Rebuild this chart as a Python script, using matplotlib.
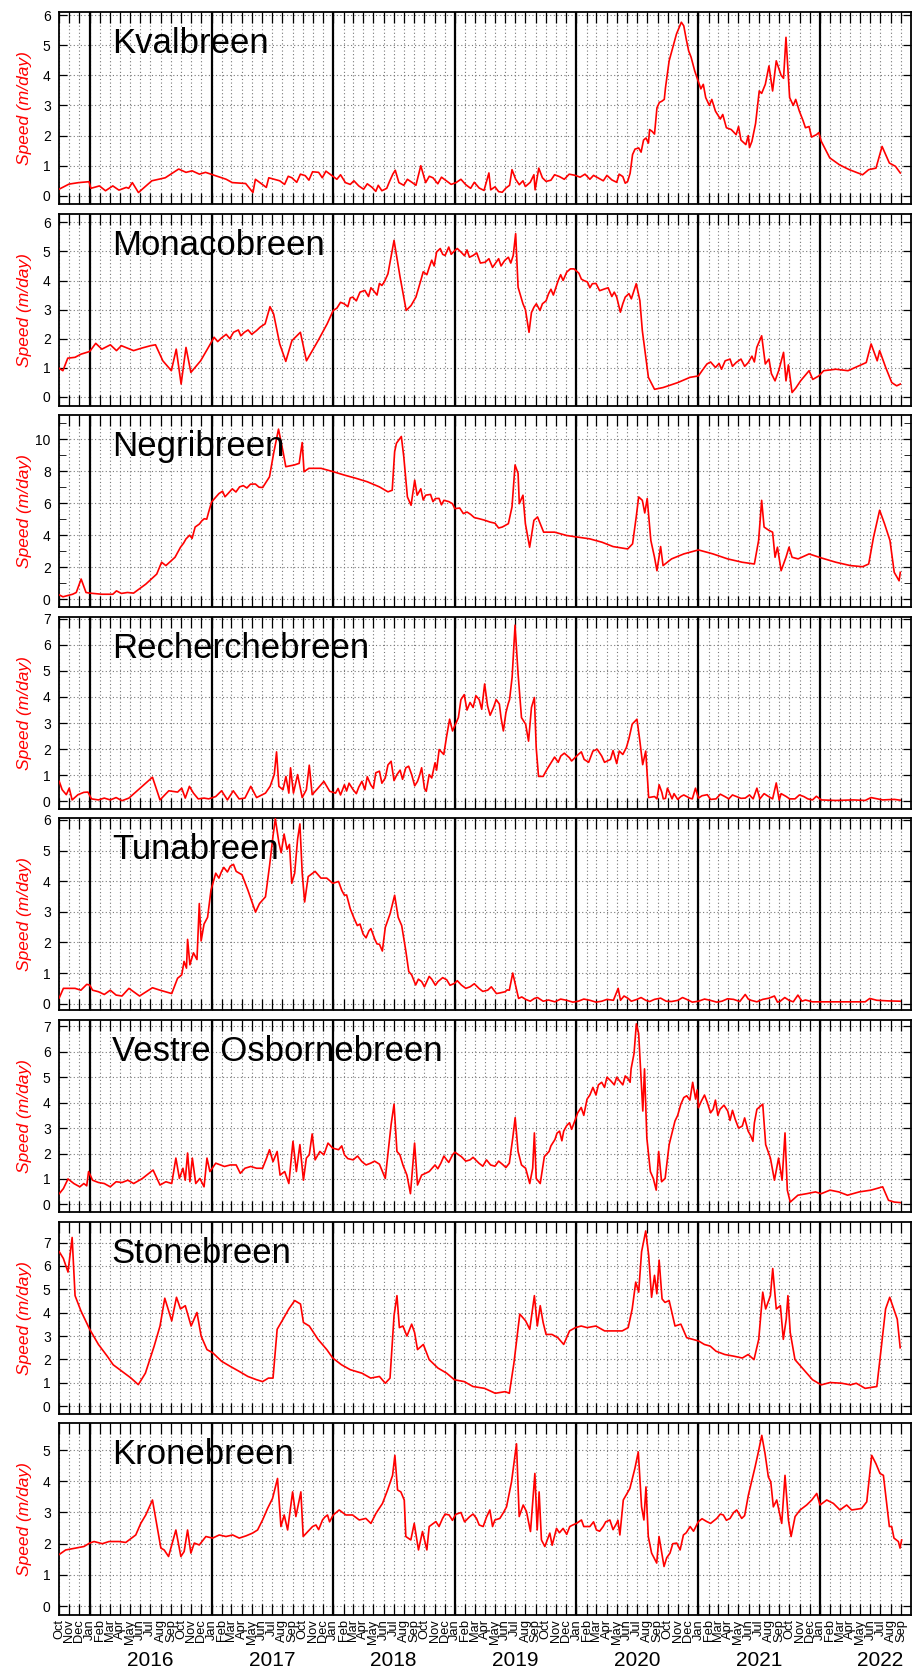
import datetime as dt
import matplotlib
matplotlib.use("Agg")
import matplotlib.pyplot as plt

plt.rcParams['font.family'] = ['Liberation Sans', 'DejaVu Sans']

# (decimal year, speed m/day); order does not matter, sorted below
KVAL = [(2015.748, 0.22), (2015.83, 0.39), (2015.91, 0.44), (2015.995, 0.47), (2016.01, 0.25),
        (2016.08, 0.33), (2016.13, 0.17), (2016.19, 0.33), (2016.24, 0.19), (2016.30, 0.28),
        (2016.32, 0.25), (2016.35, 0.44), (2016.40, 0.11), (2016.51, 0.5), (2016.62, 0.6),
        (2016.73, 0.89), (2016.79, 0.78), (2016.84, 0.83), (2016.90, 0.72), (2016.95, 0.78),
        (2017.01, 0.70), (2017.12, 0.55), (2017.17, 0.44), (2017.28, 0.41), (2017.34, 0.11),
        (2017.36, 0.55), (2017.45, 0.28), (2017.47, 0.6), (2017.56, 0.5), (2017.66, 0.6),
        (2017.77, 0.67), (2017.88, 0.78), (2017.99, 0.67), (2018.10, 0.44), (2018.21, 0.33),
        (2018.32, 0.28), (2018.40, 0.17), (2018.49, 0.72), (2018.54, 0.44), (2018.65, 0.44),
        (2018.72, 1.0), (2018.76, 0.44), (2018.82, 0.6), (2018.93, 0.5), (2019.01, 0.44),
        (2019.09, 0.37), (2019.20, 0.26), (2019.28, 0.76), (2019.295, 0.2), (2019.36, 0.14),
        (2019.42, 0.26), (2019.47, 0.87), (2019.53, 0.37), (2019.58, 0.31), (2019.65, 0.7),
        (2019.66, 0.2), (2019.69, 0.92), (2019.75, 0.48), (2019.86, 0.64), (2019.99, 0.68),
        (2020.18, 0.59), (2020.29, 0.53), (2020.38, 0.64), (2020.42, 0.48), (2020.46, 1.37),
        (2020.51, 1.59), (2020.57, 1.92), (2020.62, 2.14), (2020.66, 2.92), (2020.70, 3.14),
        (2020.73, 3.59), (2020.76, 4.48), (2020.82, 5.37), (2020.86, 5.76), (2020.88, 5.64),
        (2020.92, 4.81), (2020.97, 4.14), (2021.06, 3.26), (2021.14, 2.81), (2021.23, 2.26),
        (2021.31, 2.03), (2021.39, 1.7), (2021.44, 1.81), (2021.50, 3.48), (2021.55, 3.7),
        (2021.58, 4.31), (2021.61, 3.48), (2021.64, 4.48), (2021.68, 4.0), (2021.72, 5.26),
        (2021.75, 3.26), (2021.83, 2.81), (2021.88, 2.26), (2021.97, 2.03), (2022.01, 1.81),
        (2022.08, 1.26), (2022.16, 1.03), (2022.24, 0.87), (2022.35, 0.7), (2022.40, 0.87),
        (2022.46, 0.92), (2022.51, 1.64), (2022.57, 1.09), (2022.62, 0.98), (2022.66, 0.76),
        (2017.60, 0.38), (2017.63, 0.65), (2017.70, 0.45), (2017.73, 0.72), (2017.80, 0.52),
        (2017.83, 0.8), (2017.91, 0.6), (2017.94, 0.82), (2018.03, 0.55), (2018.06, 0.7),
        (2018.14, 0.38), (2018.17, 0.5), (2018.25, 0.22), (2018.28, 0.4), (2018.35, 0.15),
        (2018.37, 0.35), (2018.44, 0.25), (2018.46, 0.45), (2018.51, 0.85), (2018.58, 0.35),
        (2018.61, 0.55), (2018.68, 0.35), (2018.79, 0.65), (2018.86, 0.4), (2018.89, 0.62),
        (2018.97, 0.38), (2019.05, 0.55), (2019.13, 0.25), (2019.16, 0.45), (2019.24, 0.18),
        (2019.33, 0.3), (2019.39, 0.12), (2019.45, 0.35), (2019.50, 0.55), (2019.56, 0.5),
        (2019.62, 0.45), (2019.72, 0.6), (2019.79, 0.52), (2019.82, 0.7), (2019.90, 0.55),
        (2019.94, 0.72), (2020.03, 0.62), (2020.07, 0.72), (2020.11, 0.55), (2020.14, 0.68),
        (2020.22, 0.5), (2020.25, 0.68), (2020.33, 0.45), (2020.35, 0.72), (2020.40, 0.42),
        (2020.44, 0.75), (2020.48, 1.55), (2020.53, 1.45), (2020.55, 1.85), (2020.59, 1.75),
        (2020.60, 2.2), (2020.64, 2.05), (2020.68, 3.1), (2020.72, 3.2), (2020.90, 5.2),
        (2020.94, 4.6), (2020.99, 3.9), (2021.02, 3.55), (2021.04, 3.7), (2021.09, 3.0),
        (2021.11, 3.2), (2021.18, 2.55), (2021.20, 2.7), (2021.27, 2.2), (2021.33, 2.3),
        (2021.35, 1.85), (2021.41, 2.0), (2021.42, 1.6), (2021.47, 2.4), (2021.52, 3.4),
        (2021.70, 3.9), (2021.78, 3.0), (2021.80, 3.2), (2021.86, 2.5), (2021.91, 2.3),
        (2021.93, 1.95), (2021.99, 2.1)]

MONACO = [(2015.75, 0.98), (2015.78, 0.9), (2015.82, 1.33), (2015.88, 1.36), (2015.93, 1.47),
          (2016.00, 1.56), (2016.05, 1.84), (2016.10, 1.64), (2016.17, 1.79), (2016.22, 1.59),
          (2016.26, 1.76), (2016.36, 1.59), (2016.43, 1.68), (2016.50, 1.76), (2016.54, 1.79),
          (2016.60, 1.24), (2016.67, 0.9), (2016.71, 1.64), (2016.75, 0.44), (2016.79, 1.7),
          (2016.83, 0.84), (2016.91, 1.24), (2016.99, 1.82), (2017.08, 2.02), (2017.18, 2.22),
          (2017.27, 2.22), (2017.37, 2.28), (2017.44, 2.51), (2017.48, 3.1), (2017.51, 2.85),
          (2017.56, 1.82), (2017.61, 1.22), (2017.66, 1.93), (2017.73, 2.22), (2017.78, 1.24),
          (2017.875, 1.93), (2017.95, 2.51), (2018.00, 2.97), (2018.09, 3.2), (2018.16, 3.43),
          (2018.26, 3.66), (2018.33, 3.66), (2018.40, 3.83), (2018.45, 4.23), (2018.50, 5.38),
          (2018.55, 4.11), (2018.60, 2.97), (2018.64, 3.14), (2018.68, 3.43), (2018.72, 4.0),
          (2018.79, 4.46), (2018.85, 4.98), (2018.92, 4.86), (2019.00, 5.03), (2019.05, 4.98),
          (2019.15, 4.86), (2019.25, 4.63), (2019.34, 4.63), (2019.41, 4.69), (2019.48, 4.86),
          (2019.50, 5.61), (2019.52, 3.77), (2019.56, 3.2), (2019.61, 2.22), (2019.65, 3.08),
          (2019.70, 2.97), (2019.77, 3.54), (2019.85, 4.0), (2019.92, 4.29), (2019.98, 4.4),
          (2020.06, 4.0), (2020.13, 3.89), (2020.23, 3.71), (2020.33, 3.43), (2020.36, 2.91),
          (2020.40, 3.43), (2020.45, 3.37), (2020.49, 3.89), (2020.52, 3.31), (2020.54, 2.28),
          (2020.59, 0.67), (2020.64, 0.26), (2020.71, 0.32), (2020.83, 0.49), (2020.93, 0.67),
          (2021.00, 0.72), (2021.07, 1.13), (2021.14, 1.01), (2021.22, 1.24), (2021.31, 1.18),
          (2021.41, 1.18), (2021.48, 1.7), (2021.52, 2.1), (2021.55, 1.13), (2021.63, 0.55),
          (2021.70, 1.53), (2021.72, 0.55), (2021.77, 0.15), (2021.84, 0.55), (2021.91, 0.9),
          (2021.99, 0.72), (2022.03, 0.9), (2022.13, 0.95), (2022.23, 0.9), (2022.32, 1.07),
          (2022.38, 1.18), (2022.42, 1.82), (2022.47, 1.24), (2022.49, 1.59), (2022.54, 1.01),
          (2022.59, 0.49), (2022.63, 0.38), (2022.66, 0.44),
          (2017.02, 2.05), (2017.05, 1.9), (2017.12, 2.15), (2017.15, 2.0), (2017.22, 2.3),
          (2017.24, 2.1), (2017.30, 2.3), (2017.33, 2.15), (2017.40, 2.4), (2018.03, 3.05),
          (2018.06, 3.25), (2018.12, 3.1), (2018.14, 3.4), (2018.19, 3.3), (2018.22, 3.6),
          (2018.29, 3.45), (2018.31, 3.75), (2018.36, 3.5), (2018.38, 3.9), (2018.42, 3.95),
          (2018.74, 4.3), (2018.77, 4.2), (2018.81, 4.7), (2018.83, 4.5), (2018.88, 5.1),
          (2018.90, 4.9), (2018.95, 5.15), (2018.97, 4.9), (2019.02, 5.1), (2019.08, 4.85),
          (2019.10, 5.05), (2019.12, 4.8), (2019.18, 4.95), (2019.21, 4.6), (2019.28, 4.75),
          (2019.31, 4.45), (2019.36, 4.75), (2019.38, 4.5), (2019.44, 4.8), (2019.46, 4.6),
          (2019.58, 3.0), (2019.63, 2.9), (2019.67, 3.2), (2019.72, 3.2), (2019.75, 3.3),
          (2019.79, 3.7), (2019.81, 3.5), (2019.87, 4.2), (2019.89, 4.0), (2019.95, 4.4),
          (2020.02, 4.25), (2020.04, 4.05), (2020.09, 3.95), (2020.11, 3.75), (2020.16, 3.9),
          (2020.19, 3.65), (2020.26, 3.75), (2020.29, 3.45), (2020.31, 3.6), (2020.38, 3.2),
          (2020.43, 3.55), (2021.03, 0.9), (2021.10, 1.2), (2021.17, 1.15), (2021.19, 0.95),
          (2021.26, 1.3), (2021.28, 1.05), (2021.35, 1.3), (2021.38, 1.05), (2021.44, 1.4),
          (2021.46, 1.2), (2021.58, 1.3), (2021.60, 0.8), (2021.66, 0.9), (2021.74, 1.1),
          (2021.80, 0.3), (2021.87, 0.7), (2021.94, 0.6)]

NEGRI = [(2015.75, 0.27), (2015.78, 0.15), (2015.86, 0.31), (2015.89, 0.42), (2015.93, 1.26),
         (2015.97, 0.42), (2016.00, 0.38), (2016.10, 0.31), (2016.19, 0.31), (2016.22, 0.52),
         (2016.26, 0.36), (2016.31, 0.42), (2016.36, 0.38), (2016.46, 0.94), (2016.55, 1.57),
         (2016.59, 2.31), (2016.625, 2.1), (2016.70, 2.62), (2016.745, 3.25), (2016.79, 3.77),
         (2016.865, 4.51), (2016.94, 5.03), (2016.976, 5.45), (2017.00, 6.08), (2017.06, 6.6),
         (2017.13, 6.56), (2017.23, 7.02), (2017.32, 7.19), (2017.42, 6.98), (2017.476, 7.65),
         (2017.51, 9.12), (2017.55, 10.63), (2017.59, 9.12), (2017.61, 8.28), (2017.68, 8.39),
         (2017.72, 8.49), (2017.745, 9.79), (2017.76, 7.97), (2017.80, 8.18), (2017.90, 8.18),
         (2018.00, 7.97), (2018.09, 7.76), (2018.19, 7.55), (2018.28, 7.34), (2018.38, 7.02),
         (2018.45, 6.71), (2018.485, 6.81), (2018.505, 9.22), (2018.52, 9.75), (2018.56, 10.17),
         (2018.58, 8.91), (2018.61, 6.39), (2018.64, 5.87), (2018.67, 7.44), (2018.69, 6.5),
         (2018.76, 6.5), (2018.84, 6.29), (2018.91, 6.18), (2018.98, 5.97), (2019.00, 5.66),
         (2019.10, 5.45), (2019.20, 5.03), (2019.29, 4.82), (2019.39, 4.51), (2019.44, 4.72),
         (2019.47, 5.77), (2019.495, 8.39), (2019.52, 7.86), (2019.53, 5.97), (2019.56, 6.5),
         (2019.58, 4.72), (2019.615, 3.25), (2019.65, 4.93), (2019.68, 5.14), (2019.73, 4.19),
         (2019.82, 4.19), (2019.92, 3.98), (2020.01, 3.88), (2020.11, 3.77), (2020.21, 3.56),
         (2020.30, 3.29), (2020.42, 3.14), (2020.46, 3.46), (2020.49, 5.14), (2020.51, 6.39),
         (2020.54, 6.18), (2020.56, 5.39), (2020.58, 6.29), (2020.61, 3.67), (2020.64, 2.62),
         (2020.66, 1.78), (2020.69, 3.29), (2020.71, 2.1), (2020.78, 2.52), (2020.88, 2.83),
         (2021.00, 3.08), (2021.12, 2.83), (2021.24, 2.52), (2021.36, 2.31), (2021.46, 2.2),
         (2021.495, 3.67), (2021.52, 6.18), (2021.54, 4.51), (2021.58, 4.3), (2021.61, 4.19),
         (2021.63, 2.62), (2021.65, 3.25), (2021.68, 1.78), (2021.72, 2.62), (2021.745, 3.25),
         (2021.77, 2.62), (2021.82, 2.52), (2021.91, 2.83), (2022.01, 2.58), (2022.13, 2.31),
         (2022.25, 2.1), (2022.35, 2.03), (2022.40, 2.2), (2022.44, 3.88), (2022.49, 5.56),
         (2022.53, 4.72), (2022.575, 3.67), (2022.61, 1.68), (2022.65, 1.15), (2022.66, 1.68),
         (2018.72, 6.9), (2018.74, 6.2), (2018.80, 6.55), (2018.82, 6.1), (2018.87, 6.3),
         (2018.89, 5.9), (2018.95, 6.1), (2019.04, 5.7), (2019.07, 5.35), (2019.13, 5.3),
         (2019.16, 5.1), (2019.24, 4.95), (2019.33, 4.75), (2019.36, 4.45), (2017.09, 6.75),
         (2017.11, 6.4), (2017.17, 6.9), (2017.20, 6.7), (2017.26, 7.1), (2017.29, 6.95),
         (2017.36, 7.2), (2017.39, 7.0), (2016.77, 3.5), (2016.82, 4.0), (2016.84, 3.8),
         (2016.90, 4.7), (2016.92, 4.9), (2016.96, 5.0)]

RECHERCHE = [(2015.75, 0.77), (2015.774, 0.45), (2015.808, 0.26), (2015.832, 0.51), (2015.856, 0.06),
             (2015.904, 0.26), (2015.952, 0.35), (2015.986, 0.36), (2016.015, 0.1), (2016.072, 0.06),
             (2016.12, 0.13), (2016.169, 0.06), (2016.217, 0.15), (2016.265, 0.03), (2016.322, 0.13),
             (2016.515, 0.93), (2016.577, 0.06), (2016.649, 0.41), (2016.721, 0.36), (2016.755, 0.51),
             (2016.784, 0.13), (2016.818, 0.58), (2016.851, 0.32), (2016.89, 0.1), (2016.938, 0.13),
             (2016.976, 0.1), (2017.034, 0.19), (2017.082, 0.41), (2017.13, 0.06), (2017.178, 0.41),
             (2017.226, 0.1), (2017.274, 0.13), (2017.322, 0.58), (2017.37, 0.15), (2017.443, 0.32),
             (2017.481, 0.58), (2017.515, 1.03), (2017.534, 1.9), (2017.553, 0.58), (2017.587, 0.45),
             (2017.611, 0.96), (2017.635, 0.32), (2017.649, 1.29), (2017.673, 0.32), (2017.707, 1.03),
             (2017.745, 0.15), (2017.779, 0.45), (2017.803, 1.39), (2017.827, 0.26), (2017.875, 0.51),
             (2017.923, 0.77), (2017.971, 0.39), (2018.019, 0.32), (2018.092, 0.64), (2018.164, 0.45),
             (2018.236, 0.77), (2018.308, 0.64), (2018.38, 1.16), (2018.428, 0.9), (2018.476, 1.54),
             (2018.524, 1.03), (2018.597, 1.29), (2018.645, 1.03), (2018.693, 0.77), (2018.727, 1.29),
             (2018.765, 0.39), (2018.789, 1.03), (2018.837, 1.48), (2018.871, 1.99), (2018.909, 1.8),
             (2018.933, 2.51), (2018.957, 3.15), (2018.981, 2.7), (2019.029, 3.21), (2019.077, 4.09),
             (2019.125, 3.79), (2019.173, 4.05), (2019.221, 3.53), (2019.245, 4.5), (2019.269, 3.66),
             (2019.318, 3.6), (2019.366, 3.73), (2019.399, 2.7), (2019.438, 3.73), (2019.471, 4.76),
             (2019.495, 6.75), (2019.52, 4.88), (2019.548, 3.21), (2019.582, 2.96), (2019.606, 2.31),
             (2019.63, 3.6), (2019.654, 3.98), (2019.669, 2.06), (2019.688, 0.96), (2019.726, 0.96),
             (2019.799, 1.54), (2019.871, 1.74), (2019.943, 1.67), (2020.015, 1.8), (2020.063, 1.61),
             (2020.135, 1.93), (2020.207, 1.74), (2020.279, 1.61), (2020.351, 1.93), (2020.409, 2.06),
             (2020.457, 2.96), (2020.496, 3.15), (2020.52, 2.31), (2020.543, 1.41), (2020.568, 1.93),
             (2020.592, 0.15), (2020.64, 0.19), (2020.678, 0.64), (2020.712, 0.1), (2020.746, 0.51),
             (2020.784, 0.1), (2020.856, 0.19), (2020.928, 0.13), (2020.976, 0.51), (2021.0, 0.13),
             (2021.073, 0.26), (2021.145, 0.1), (2021.217, 0.19), (2021.313, 0.19), (2021.385, 0.13),
             (2021.481, 0.51), (2021.505, 0.1), (2021.577, 0.19), (2021.64, 0.71), (2021.664, 0.06),
             (2021.722, 0.19), (2021.794, 0.1), (2021.866, 0.19), (2021.938, 0.06), (2022.01, 0.06),
             (2022.13, 0.04), (2022.274, 0.06), (2022.371, 0.04), (2022.419, 0.15), (2022.515, 0.06),
             (2022.611, 0.08), (2022.659, 0.05),
             (2018.04, 0.5), (2018.06, 0.25), (2018.11, 0.4), (2018.13, 0.7), (2018.19, 0.3),
             (2018.21, 0.55), (2018.26, 0.45), (2018.28, 0.95), (2018.33, 0.5), (2018.35, 1.1),
             (2018.40, 0.7), (2018.45, 1.4), (2018.50, 0.8), (2018.55, 1.2), (2018.57, 0.85),
             (2018.62, 1.35), (2018.67, 0.6), (2018.71, 1.0), (2018.75, 0.5), (2018.81, 0.9),
             (2018.85, 1.2), (2019.05, 3.9), (2019.10, 3.5), (2019.15, 3.6), (2019.20, 3.9),
             (2019.29, 3.3), (2019.34, 3.9), (2019.38, 3.2), (2019.42, 3.4), (2019.45, 3.9),
             (2019.76, 1.25), (2019.82, 1.7), (2019.85, 1.5), (2019.90, 1.85), (2019.96, 1.55),
             (2020.04, 1.9), (2020.10, 1.5), (2020.17, 2.0), (2020.23, 1.5), (2020.30, 1.95),
             (2020.33, 1.45), (2020.38, 1.8), (2020.43, 2.4), (2020.66, 0.1), (2020.70, 0.35),
             (2020.73, 0.12), (2020.80, 0.3), (2020.83, 0.08), (2020.88, 0.25), (2020.95, 0.1),
             (2021.03, 0.22), (2021.10, 0.08), (2021.18, 0.28), (2021.25, 0.1), (2021.28, 0.25),
             (2021.35, 0.12), (2021.42, 0.25), (2021.45, 0.1), (2021.54, 0.3), (2021.61, 0.1),
             (2021.68, 0.3), (2021.75, 0.1), (2021.83, 0.25), (2021.90, 0.1), (2021.97, 0.2)]

TUNA = [(2015.75, 0.19), (2015.784, 0.5), (2015.88, 0.5), (2015.928, 0.44), (2015.976, 0.63),
        (2016.0, 0.61), (2016.024, 0.44), (2016.072, 0.39), (2016.12, 0.3), (2016.169, 0.44),
        (2016.217, 0.28), (2016.265, 0.25), (2016.322, 0.5), (2016.409, 0.25), (2016.515, 0.52),
        (2016.577, 0.44), (2016.673, 0.33), (2016.721, 0.83), (2016.755, 0.94), (2016.774, 1.38),
        (2016.794, 1.16), (2016.803, 2.1), (2016.822, 1.27), (2016.851, 1.66), (2016.88, 1.44),
        (2016.899, 3.27), (2016.914, 2.05), (2016.938, 2.6), (2016.967, 2.82), (2016.995, 3.71),
        (2017.034, 4.26), (2017.082, 4.32), (2017.154, 4.49), (2017.202, 4.32), (2017.25, 4.21),
        (2017.298, 3.71), (2017.332, 3.32), (2017.361, 2.99), (2017.394, 3.27), (2017.443, 3.49),
        (2017.476, 4.49), (2017.505, 5.48), (2017.524, 6.04), (2017.553, 5.26), (2017.572, 4.93),
        (2017.596, 5.54), (2017.62, 5.04), (2017.64, 5.2), (2017.659, 3.93), (2017.683, 4.26),
        (2017.707, 5.37), (2017.726, 5.87), (2017.745, 4.26), (2017.765, 3.32), (2017.794, 4.15),
        (2017.851, 4.32), (2017.899, 4.1), (2017.947, 4.1), (2017.996, 3.93), (2018.044, 3.99),
        (2018.092, 3.54), (2018.14, 3.1), (2018.198, 2.55), (2018.246, 2.27), (2018.294, 2.38),
        (2018.342, 2.1), (2018.38, 1.94), (2018.404, 1.72), (2018.428, 2.49), (2018.467, 2.93),
        (2018.505, 3.54), (2018.534, 2.82), (2018.563, 2.55), (2018.597, 1.72), (2018.621, 1.05),
        (2018.645, 0.94), (2018.678, 0.61), (2018.727, 0.72), (2018.789, 0.89), (2018.861, 0.72),
        (2018.933, 0.78), (2018.996, 0.66), (2019.053, 0.61), (2019.125, 0.55), (2019.198, 0.5),
        (2019.27, 0.44), (2019.342, 0.33), (2019.414, 0.39), (2019.448, 0.44), (2019.476, 1.0),
        (2019.505, 0.5), (2019.524, 0.17), (2019.582, 0.14), (2019.654, 0.17), (2019.726, 0.08),
        (2019.823, 0.06), (2019.919, 0.11), (2020.015, 0.08), (2020.111, 0.11), (2020.207, 0.08),
        (2020.303, 0.11), (2020.342, 0.5), (2020.361, 0.11), (2020.424, 0.17), (2020.496, 0.14),
        (2020.568, 0.11), (2020.64, 0.14), (2020.736, 0.08), (2020.832, 0.11), (2020.904, 0.14),
        (2021.0, 0.08), (2021.097, 0.11), (2021.193, 0.08), (2021.289, 0.14), (2021.385, 0.3),
        (2021.433, 0.11), (2021.529, 0.14), (2021.625, 0.25), (2021.673, 0.08), (2021.745, 0.11),
        (2021.818, 0.28), (2021.851, 0.08), (2021.938, 0.06), (2022.01, 0.06), (2022.13, 0.06),
        (2022.274, 0.06), (2022.371, 0.06), (2022.409, 0.17), (2022.467, 0.11), (2022.563, 0.09),
        (2022.659, 0.08),
        (2019.55, 0.22), (2019.62, 0.08), (2019.68, 0.2), (2019.77, 0.12), (2019.87, 0.15),
        (2019.97, 0.05), (2020.06, 0.15), (2020.16, 0.05), (2020.25, 0.14), (2020.39, 0.25),
        (2020.45, 0.08), (2020.53, 0.2), (2020.60, 0.07), (2020.69, 0.18), (2020.78, 0.07),
        (2020.87, 0.2), (2020.95, 0.05), (2021.05, 0.15), (2021.15, 0.05), (2021.24, 0.16),
        (2021.34, 0.07), (2021.41, 0.15), (2021.48, 0.06), (2021.58, 0.18), (2021.65, 0.05),
        (2021.71, 0.2), (2021.78, 0.06), (2021.88, 0.12), (2018.70, 0.8), (2018.75, 0.55),
        (2018.81, 0.8), (2018.84, 0.6), (2018.90, 0.85), (2018.96, 0.6), (2019.02, 0.75),
        (2019.09, 0.5), (2019.16, 0.65), (2019.23, 0.4), (2019.30, 0.55), (2019.37, 0.35),
        (2019.43, 0.45), (2017.06, 4.1), (2017.10, 4.45), (2017.13, 4.3), (2017.18, 4.55),
        (2018.07, 3.7), (2018.11, 3.55), (2018.17, 2.8), (2018.22, 2.6), (2018.27, 2.15),
        (2018.31, 2.45), (2018.36, 1.95)]

VESTRE = [(2015.75, 0.42), (2015.784, 0.62), (2015.822, 1.0), (2015.87, 0.82), (2015.919, 0.69),
          (2015.952, 0.82), (2015.976, 0.73), (2015.991, 1.29), (2016.024, 0.95), (2016.072, 0.86),
          (2016.12, 0.82), (2016.169, 0.69), (2016.217, 0.89), (2016.265, 0.86), (2016.313, 0.95),
          (2016.361, 0.82), (2016.433, 1.02), (2016.52, 1.35), (2016.577, 0.76), (2016.625, 0.89),
          (2016.673, 0.82), (2016.707, 1.82), (2016.736, 1.02), (2016.765, 1.42), (2016.784, 0.95),
          (2016.803, 2.02), (2016.822, 0.89), (2016.842, 1.82), (2016.87, 0.82), (2016.904, 1.02),
          (2016.938, 0.69), (2016.962, 1.82), (2016.986, 1.29), (2017.034, 1.62), (2017.106, 1.49),
          (2017.154, 1.55), (2017.202, 1.55), (2017.236, 1.22), (2017.274, 1.42), (2017.322, 1.49),
          (2017.37, 1.42), (2017.419, 1.42), (2017.452, 1.82), (2017.476, 2.15), (2017.505, 1.68),
          (2017.539, 2.08), (2017.563, 1.15), (2017.601, 1.29), (2017.635, 0.82), (2017.669, 2.48),
          (2017.697, 1.29), (2017.726, 2.35), (2017.755, 0.95), (2017.779, 1.82), (2017.803, 1.95),
          (2017.827, 2.77), (2017.851, 1.75), (2017.89, 2.08), (2017.923, 1.95), (2017.957, 2.41),
          (2017.996, 2.21), (2018.044, 2.15), (2018.092, 1.95), (2018.164, 1.75), (2018.236, 1.68),
          (2018.308, 1.62), (2018.38, 1.58), (2018.428, 1.02), (2018.452, 2.08), (2018.476, 3.14),
          (2018.5, 3.94), (2018.524, 2.08), (2018.548, 1.95), (2018.573, 1.55), (2018.606, 1.15),
          (2018.635, 0.42), (2018.669, 2.41), (2018.693, 0.76), (2018.727, 1.15), (2018.789, 1.29),
          (2018.837, 1.55), (2018.885, 1.62), (2018.933, 1.75), (2018.981, 1.95), (2019.053, 1.88),
          (2019.125, 1.75), (2019.198, 1.62), (2019.294, 1.55), (2019.39, 1.58), (2019.448, 1.62),
          (2019.476, 2.61), (2019.496, 3.41), (2019.52, 2.08), (2019.548, 1.55), (2019.582, 1.42),
          (2019.616, 0.82), (2019.64, 1.42), (2019.654, 2.81), (2019.669, 1.02), (2019.702, 0.82),
          (2019.736, 1.88), (2019.775, 2.08), (2019.823, 2.55), (2019.861, 2.88), (2019.895, 2.88),
          (2019.943, 3.21), (2019.991, 3.34), (2020.039, 3.81), (2020.087, 4.14), (2020.135, 4.6),
          (2020.207, 4.8), (2020.279, 4.87), (2020.351, 4.87), (2020.424, 4.93), (2020.448, 5.33),
          (2020.472, 5.93), (2020.491, 7.1), (2020.51, 6.72), (2020.529, 5.0), (2020.544, 3.67),
          (2020.558, 5.33), (2020.577, 2.61), (2020.606, 1.29), (2020.63, 1.02), (2020.654, 0.56),
          (2020.674, 2.08), (2020.698, 0.89), (2020.727, 1.02), (2020.76, 2.35), (2020.808, 3.28),
          (2020.856, 3.94), (2020.904, 4.27), (2020.953, 4.8), (2020.977, 4.14), (2021.025, 4.07),
          (2021.073, 4.01), (2021.121, 3.74), (2021.178, 3.74), (2021.241, 3.67), (2021.303, 3.34),
          (2021.361, 3.08), (2021.409, 2.88), (2021.448, 2.48), (2021.481, 3.74), (2021.529, 3.94),
          (2021.553, 2.35), (2021.592, 1.82), (2021.625, 0.95), (2021.659, 1.82), (2021.688, 0.95),
          (2021.712, 2.81), (2021.731, 0.56), (2021.755, 0.09), (2021.818, 0.36), (2021.89, 0.42),
          (2021.962, 0.49), (2022.01, 0.42), (2022.082, 0.56), (2022.154, 0.49), (2022.226, 0.36),
          (2022.322, 0.49), (2022.419, 0.56), (2022.515, 0.69), (2022.563, 0.16), (2022.611, 0.09),
          (2022.659, 0.07),
          (2019.79, 2.3), (2019.84, 2.8), (2019.88, 2.5), (2019.92, 3.1), (2019.96, 2.95),
          (2020.01, 3.6), (2020.06, 3.5), (2020.11, 4.3), (2020.16, 4.3), (2020.18, 4.7),
          (2020.23, 4.6), (2020.25, 5.0), (2020.31, 4.7), (2020.33, 5.0), (2020.38, 4.7),
          (2020.40, 5.05), (2020.44, 4.8), (2020.83, 3.5), (2020.88, 4.2), (2020.93, 4.1),
          (2020.99, 4.5), (2021.00, 3.8), (2021.05, 4.3), (2021.10, 3.6), (2021.14, 4.1),
          (2021.16, 3.5), (2021.21, 3.9), (2021.26, 3.3), (2021.28, 3.7), (2021.33, 3.0),
          (2021.38, 3.4), (2021.43, 2.7), (2021.46, 3.2), (2018.86, 1.4), (2018.91, 1.9),
          (2018.95, 1.65), (2019.00, 2.05), (2019.09, 1.7), (2019.15, 1.85), (2019.23, 1.5),
          (2019.26, 1.75), (2019.33, 1.5), (2019.36, 1.7), (2019.42, 1.45), (2018.07, 2.3),
          (2018.12, 1.8), (2018.20, 1.9), (2018.27, 1.55), (2018.34, 1.7)]

STONE = [(2015.75, 6.61), (2015.784, 6.32), (2015.822, 5.74), (2015.856, 7.22), (2015.88, 4.73),
         (2015.928, 4.08), (2016.0, 3.29), (2016.072, 2.64), (2016.144, 2.14), (2016.193, 1.77),
         (2016.265, 1.49), (2016.337, 1.21), (2016.399, 0.92), (2016.457, 1.41), (2016.529, 2.57),
         (2016.577, 3.43), (2016.616, 4.62), (2016.673, 3.65), (2016.712, 4.66), (2016.745, 4.16),
         (2016.784, 4.3), (2016.832, 3.43), (2016.88, 4.01), (2016.914, 3.0), (2016.962, 2.42),
         (2017.01, 2.28), (2017.082, 1.92), (2017.154, 1.7), (2017.226, 1.49), (2017.298, 1.27),
         (2017.37, 1.13), (2017.419, 1.05), (2017.467, 1.2), (2017.505, 1.2), (2017.539, 3.29),
         (2017.587, 3.72), (2017.635, 4.16), (2017.683, 4.52), (2017.731, 4.37), (2017.755, 3.58),
         (2017.803, 3.43), (2017.875, 2.86), (2017.947, 2.42), (2017.996, 2.06), (2018.068, 1.77),
         (2018.14, 1.56), (2018.236, 1.41), (2018.308, 1.2), (2018.38, 1.27), (2018.428, 0.98),
         (2018.467, 1.2), (2018.5, 3.87), (2018.524, 4.73), (2018.544, 3.36), (2018.573, 3.43),
         (2018.606, 3.0), (2018.645, 3.51), (2018.669, 3.15), (2018.693, 2.42), (2018.741, 2.64),
         (2018.789, 1.99), (2018.861, 1.63), (2018.933, 1.41), (2018.996, 1.13), (2019.077, 1.05),
         (2019.149, 0.84), (2019.245, 0.76), (2019.332, 0.55), (2019.414, 0.62), (2019.448, 0.55),
         (2019.486, 1.85), (2019.534, 3.94), (2019.582, 3.65), (2019.616, 3.29), (2019.654, 4.73),
         (2019.678, 3.43), (2019.702, 4.3), (2019.726, 3.58), (2019.75, 3.07), (2019.798, 3.07),
         (2019.847, 2.93), (2019.895, 2.64), (2019.943, 3.22), (2019.991, 3.36), (2020.039, 3.43),
         (2020.087, 3.36), (2020.159, 3.43), (2020.231, 3.22), (2020.303, 3.22), (2020.375, 3.22),
         (2020.424, 3.36), (2020.457, 4.16), (2020.486, 5.31), (2020.51, 4.88), (2020.534, 6.61),
         (2020.568, 7.5), (2020.592, 6.46), (2020.616, 4.66), (2020.64, 5.6), (2020.659, 4.81),
         (2020.678, 6.25), (2020.702, 4.59), (2020.726, 4.44), (2020.76, 4.52), (2020.808, 3.43),
         (2020.856, 3.51), (2020.904, 2.93), (2020.953, 2.86), (2021.001, 2.79), (2021.049, 2.64),
         (2021.097, 2.57), (2021.145, 2.35), (2021.217, 2.21), (2021.289, 2.14), (2021.361, 2.06),
         (2021.409, 2.21), (2021.457, 1.99), (2021.496, 2.86), (2021.529, 4.88), (2021.553, 4.16),
         (2021.592, 4.73), (2021.611, 5.89), (2021.64, 4.16), (2021.674, 4.3), (2021.698, 2.86),
         (2021.722, 3.72), (2021.736, 4.73), (2021.755, 3.15), (2021.794, 1.99), (2021.866, 1.56),
         (2021.938, 1.13), (2022.01, 0.91), (2022.082, 1.01), (2022.178, 0.98), (2022.25, 0.91),
         (2022.298, 0.98), (2022.371, 0.76), (2022.467, 0.84), (2022.505, 2.57), (2022.539, 4.16),
         (2022.573, 4.66), (2022.635, 3.72), (2022.659, 2.5)]

KRONE = [(2015.748, 1.65), (2015.803, 1.8), (2015.885, 1.86), (2015.953, 1.91), (2016.0, 2.02),
         (2016.036, 2.07), (2016.104, 2.0), (2016.159, 2.07), (2016.241, 2.07), (2016.296, 2.04),
         (2016.378, 2.28), (2016.419, 2.65), (2016.46, 2.92), (2016.515, 3.4), (2016.584, 1.86),
         (2016.611, 1.8), (2016.647, 1.59), (2016.707, 2.44), (2016.748, 1.59), (2016.775, 1.75),
         (2016.803, 2.44), (2016.83, 1.7), (2016.858, 2.02), (2016.899, 1.96), (2016.953, 2.23),
         (2017.008, 2.18), (2017.063, 2.28), (2017.118, 2.23), (2017.173, 2.28), (2017.227, 2.18),
         (2017.282, 2.25), (2017.337, 2.34), (2017.378, 2.44), (2017.419, 2.76), (2017.46, 3.13),
         (2017.501, 3.45), (2017.542, 4.09), (2017.57, 2.55), (2017.597, 2.92), (2017.625, 2.44),
         (2017.666, 3.66), (2017.693, 2.87), (2017.734, 3.66), (2017.753, 2.23), (2017.803, 2.44),
         (2017.858, 2.6), (2017.912, 2.76), (2017.953, 2.92), (2018.0, 2.92), (2018.049, 3.08),
         (2018.104, 2.92), (2018.159, 2.92), (2018.214, 2.76), (2018.268, 2.81), (2018.31, 2.65),
         (2018.351, 2.97), (2018.405, 3.29), (2018.447, 3.72), (2018.488, 4.19), (2018.507, 4.83),
         (2018.529, 3.72), (2018.556, 3.66), (2018.584, 3.4), (2018.597, 2.23), (2018.638, 2.12),
         (2018.666, 2.65), (2018.701, 1.8), (2018.734, 2.39), (2018.77, 1.8), (2018.789, 2.55),
         (2018.844, 2.71), (2018.899, 2.81), (2018.953, 2.92), (2019.008, 2.94), (2019.123, 2.87),
         (2019.178, 2.81), (2019.233, 2.55), (2019.288, 3.08), (2019.329, 2.76), (2019.37, 2.81),
         (2019.425, 3.18), (2019.466, 3.98), (2019.507, 5.2), (2019.529, 2.87), (2019.562, 3.24),
         (2019.589, 3.03), (2019.622, 2.39), (2019.658, 4.25), (2019.677, 2.44), (2019.693, 3.66),
         (2019.712, 2.12), (2019.74, 1.91), (2019.781, 2.34), (2019.836, 2.49), (2019.89, 2.49),
         (2019.945, 2.55), (2020.0, 2.65), (2020.041, 2.76), (2020.11, 2.55), (2020.164, 2.44),
         (2020.219, 2.55), (2020.274, 2.76), (2020.329, 2.65), (2020.356, 2.28), (2020.384, 3.4),
         (2020.438, 3.77), (2020.479, 4.41), (2020.507, 4.94), (2020.534, 3.18), (2020.553, 2.76),
         (2020.57, 3.82), (2020.589, 2.23), (2020.616, 1.7), (2020.658, 1.38), (2020.677, 2.23),
         (2020.718, 1.27), (2020.767, 1.7), (2020.822, 2.02), (2020.877, 2.28), (2020.932, 2.55),
         (2021.0, 2.71), (2021.068, 2.71), (2021.151, 2.81), (2021.205, 2.92), (2021.26, 2.81),
         (2021.315, 3.08), (2021.356, 2.81), (2021.411, 3.56), (2021.466, 4.46), (2021.493, 4.94),
         (2021.521, 5.47), (2021.548, 4.88), (2021.575, 4.14), (2021.595, 3.98), (2021.616, 3.18),
         (2021.644, 3.4), (2021.685, 2.65), (2021.712, 4.19), (2021.74, 2.76), (2021.762, 2.23),
         (2021.795, 2.87), (2021.836, 3.08), (2021.89, 3.24), (2021.932, 3.4), (2021.973, 3.61),
         (2022.0, 3.24), (2022.055, 3.4), (2022.11, 3.29), (2022.164, 3.08), (2022.219, 3.24),
         (2022.26, 3.08), (2022.342, 3.13), (2022.384, 3.34), (2022.425, 4.83), (2022.46, 4.56),
         (2022.493, 4.25), (2022.521, 4.19), (2022.548, 3.29), (2022.57, 2.55), (2022.589, 2.55),
         (2022.608, 2.18), (2022.644, 2.07), (2022.658, 1.86), (2022.671, 2.12),
         (2018.87, 2.55), (2018.92, 2.95), (2018.98, 2.75), (2019.05, 3.0), (2019.08, 2.7),
         (2019.15, 2.95), (2019.20, 2.6), (2019.26, 2.85), (2019.31, 2.55), (2019.40, 3.0),
         (2019.80, 1.95), (2019.86, 2.35), (2019.92, 2.3), (2019.97, 2.6), (2020.06, 2.55),
         (2020.14, 2.7), (2020.19, 2.4), (2020.24, 2.7), (2020.30, 2.45), (2020.34, 2.75),
         (2020.74, 1.55), (2020.79, 2.0), (2020.85, 1.8), (2020.90, 2.35), (2020.96, 2.4),
         (2021.03, 2.8), (2021.10, 2.65), (2021.18, 2.95), (2021.23, 2.75), (2021.29, 3.0),
         (2021.38, 2.9), (2017.83, 2.55), (2017.88, 2.45), (2017.93, 2.85), (2017.97, 2.7)]

NAMES = ['Kvalbreen', 'Monacobreen', 'Negribreen', 'Recherchebreen',
         'Tunabreen', 'Vestre Osbornebreen', 'Stonebreen', 'Kronebreen']
SERIES = [KVAL, MONACO, NEGRI, RECHERCHE, TUNA, VESTRE, STONE, KRONE]
YLIMS = [(-0.27, 6.1), (-0.3, 6.3), (-0.5, 11.5), (-0.28, 7.07),
         (-0.22, 6.05), (-0.3, 7.25), (-0.32, 7.9), (-0.29, 5.86)]
YTICKS = [range(0, 7), range(0, 7), range(0, 11, 2), range(0, 8),
          range(0, 7), range(0, 8), range(0, 8), range(0, 6)]
MONTH_NAMES = ['Jan', 'Feb', 'Mar', 'Apr', 'May', 'Jun',
               'Jul', 'Aug', 'Sep', 'Oct', 'Nov', 'Dec']
YEARS = [2016, 2017, 2018, 2019, 2020, 2021, 2022]


def to_date(y):
    yr = int(y)
    start = dt.datetime(yr, 1, 1)
    ndays = (dt.datetime(yr + 1, 1, 1) - start).days
    return start + dt.timedelta(days=(y - yr) * ndays)


# month starts Oct 2015 .. Sep 2022
months = []
y, m = 2015, 10
while (y, m) != (2022, 10):
    months.append(dt.datetime(y, m, 1))
    m += 1
    if m > 12:
        y, m = y + 1, 1

W, H = 917, 1670
fig = plt.figure(figsize=(W / 100, H / 100), dpi=100)

for i, name in enumerate(NAMES):
    top = 12 + i * 201.6
    ax = fig.add_axes([59 / W, 1 - (top + 192) / H, 852 / W, 192 / H])
    pts = sorted(SERIES[i])
    dates = [to_date(p[0]) for p in pts]
    vals = [p[1] for p in pts]

    ax.set_xlim(dt.datetime(2015, 10, 1), dt.datetime(2022, 10, 1))
    ax.set_ylim(*YLIMS[i])
    ax.set_xticks(months)
    ax.set_yticks(list(YTICKS[i]))
    if i == 2:
        ax.set_yticks(range(1, 12, 2), minor=True)
        ax.tick_params(axis='y', which='minor', direction='in', length=5,
                       left=True, right=True)

    for mth in months:
        ax.axvline(mth, color='#777777', lw=0.8, ls=(0, (1, 2.2)), zorder=1)
    for yt in YTICKS[i]:
        ax.axhline(yt, color='#777777', lw=0.8, ls=(0, (1, 2.2)), zorder=1)
    for yr in YEARS:
        ax.axvline(dt.datetime(yr, 1, 1), color='black', lw=1.6, zorder=2)

    ax.plot(dates, vals, color='red', lw=1.2, zorder=3)

    ax.tick_params(axis='x', direction='in', length=8, width=0.9, top=True,
                   bottom=True, pad=3, labelsize=9.3, labelrotation=90)
    ax.tick_params(axis='y', direction='in', length=6, width=0.9, left=True,
                   right=True, pad=6, labelsize=10)
    for sp in ax.spines.values():
        sp.set_linewidth(1.3)

    ax.text(-0.04, 0.5, 'Speed (m/day)', transform=ax.transAxes, rotation=90,
            ha='center', va='center', color='red', fontsize=12.5, style='italic')
    ax.text(0.062, 0.786, name, transform=ax.transAxes, fontsize=25,
            ha='left', va='baseline', zorder=4)

    if i == len(NAMES) - 1:
        ax.set_xticklabels([MONTH_NAMES[d.month - 1] for d in months])
        for yr in YEARS:
            ax.text(dt.datetime(yr, 7, 1), -0.234, str(yr),
                    transform=ax.get_xaxis_transform(), ha='center',
                    va='center', fontsize=15)
    else:
        ax.set_xticklabels([])

fig.savefig('out.png', dpi=100)
